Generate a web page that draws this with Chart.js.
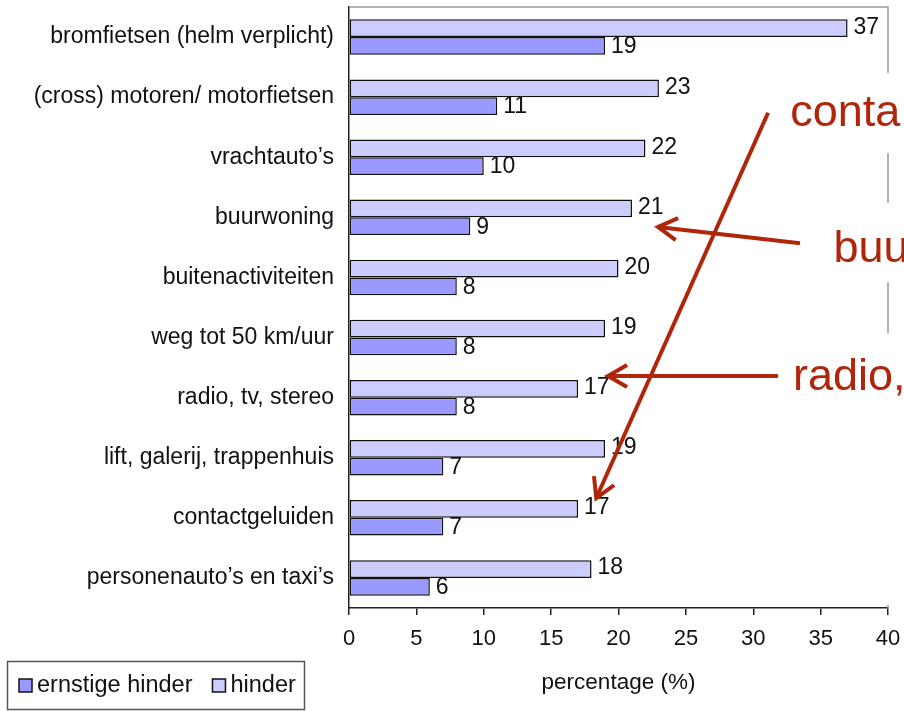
<!DOCTYPE html>
<html>
<head>
<meta charset="utf-8">
<script src="https://cdn.jsdelivr.net/npm/chart.js@4"></script>
<style>
  html, body { margin: 0; padding: 0; background: #fff; }
  #c { display: block; }
</style>
</head>
<body>
<canvas id="c" width="904" height="711"></canvas>
<script>
const categories = [
  "bromfietsen (helm verplicht)",
  "(cross) motoren/ motorfietsen",
  "vrachtauto’s",
  "buurwoning",
  "buitenactiviteiten",
  "weg tot 50 km/uur",
  "radio, tv, stereo",
  "lift, galerij, trappenhuis",
  "contactgeluiden",
  "personenauto’s en taxi’s"
];
const hinder = [37, 23, 22, 21, 20, 19, 17, 19, 17, 18];
const ernstigeHinder = [19, 11, 10, 9, 8, 8, 8, 7, 7, 6];
const seriesLabels = ["hinder", "ernstige hinder"];
const xTickValues = [0, 5, 10, 15, 20, 25, 30, 35, 40];
const axisTitle = "percentage (%)";

// annotation overlay (in data units: x = percentage, y = category index)
const annoTexts = [
  { text: "conta", x: 32.75, y: 1.48, box: [0.6, 1.93] },
  { text: "buu", x: 35.95, y: 3.74, box: [2.76, 4.08] },
  { text: "radio,", x: 32.95, y: 5.87, box: [4.93, 9.45] }
];
const annoArrows = [
  { from: [31.1, 1.26], to: [18.35, 7.67] },
  { from: [33.47, 3.43], to: [22.93, 3.16] },
  { from: [31.84, 5.64], to: [19.22, 5.64] }
];

const FONT = "'Liberation Sans', Arial, sans-serif";
const RED = "#b0260a";

const frameAndLabels = {
  id: "frameAndLabels",
  beforeDatasetsDraw(chart) {
    const { ctx, chartArea: a } = chart;
    ctx.save();
    ctx.strokeStyle = "#9a9a9a";
    ctx.lineWidth = 1.5;
    ctx.beginPath();
    ctx.moveTo(a.left, a.top);
    ctx.lineTo(a.right, a.top);
    ctx.lineTo(a.right, a.bottom);
    ctx.stroke();
    ctx.restore();
  },
  afterDatasetsDraw(chart) {
    const { ctx } = chart;
    ctx.save();
    ctx.font = "23px " + FONT;
    ctx.fillStyle = "#111";
    ctx.textBaseline = "middle";
    ctx.textAlign = "left";
    chart.data.datasets.forEach((ds, di) => {
      const meta = chart.getDatasetMeta(di);
      meta.data.forEach((bar, i) => {
        ctx.fillText(String(ds.data[i]), bar.x + 6, bar.y + (di === 0 ? -1 : 1));
      });
    });
    ctx.restore();
  },
  afterDraw(chart) {
    const { ctx, chartArea } = chart;
    const xs = chart.scales.x, ys = chart.scales.y;
    const px = v => xs.getPixelForValue(v);
    const y0 = ys.getPixelForValue(0), step = ys.getPixelForValue(1) - y0;
    const py = c => y0 + c * step;

    ctx.save();
    // white boxes behind the overlay texts
    annoTexts.forEach(t => {
      ctx.fillStyle = "#fff";
      const bx = px(t.x) - 6;
      const top = py(t.box[0]);
      const bot = Math.min(py(t.box[1]), chartArea.bottom - 2);
      ctx.fillRect(bx, top, chart.width - bx, bot - top);
    });
    ctx.font = "45px " + FONT;
    annoTexts.forEach(t => {
      ctx.fillStyle = RED;
      ctx.textBaseline = "alphabetic";
      ctx.textAlign = "left";
      ctx.fillText(t.text, px(t.x), py(t.y));
    });
    // arrows
    ctx.strokeStyle = RED;
    ctx.lineWidth = 4;
    ctx.lineCap = "butt";
    annoArrows.forEach(a => {
      const x1 = px(a.from[0]), y1 = py(a.from[1]);
      const x2 = px(a.to[0]), y2 = py(a.to[1]);
      ctx.beginPath();
      ctx.moveTo(x1, y1);
      ctx.lineTo(x2, y2);
      ctx.stroke();
      const ang = Math.atan2(y2 - y1, x2 - x1);
      const L = 22, sp = Math.PI / 6;
      ctx.beginPath();
      ctx.moveTo(x2 - L * Math.cos(ang - sp), y2 - L * Math.sin(ang - sp));
      ctx.lineTo(x2, y2);
      ctx.lineTo(x2 - L * Math.cos(ang + sp), y2 - L * Math.sin(ang + sp));
      ctx.stroke();
    });

    // legend box (bottom-left)
    ctx.strokeStyle = "#555";
    ctx.lineWidth = 1.5;
    ctx.strokeRect(7.5, 661.5, 297, 48);
    ctx.font = "23.5px " + FONT;
    ctx.textBaseline = "middle";
    ctx.textAlign = "left";
    let x = 19;
    const ly = 686;
    const items = chart.data.datasets.slice().reverse();
    items.forEach(ds => {
      ctx.fillStyle = ds.backgroundColor;
      ctx.fillRect(x, ly - 7, 13, 13);
      ctx.strokeStyle = "#111";
      ctx.lineWidth = 1.5;
      ctx.strokeRect(x, ly - 7, 13, 13);
      ctx.fillStyle = "#111";
      ctx.fillText(ds.label, x + 18, ly);
      x += 18 + ctx.measureText(ds.label).width + 20;
    });
    ctx.restore();
  }
};

new Chart(document.getElementById("c"), {
  type: "bar",
  data: {
    labels: categories,
    datasets: [
      {
        label: seriesLabels[0],
        data: hinder,
        backgroundColor: "#ccccff",
        borderColor: "#111",
        borderWidth: 1.5,
        borderSkipped: false,
        categoryPercentage: 0.59,
        barPercentage: 1.0
      },
      {
        label: seriesLabels[1],
        data: ernstigeHinder,
        backgroundColor: "#9999ff",
        borderColor: "#111",
        borderWidth: 1.5,
        borderSkipped: false,
        categoryPercentage: 0.59,
        barPercentage: 1.0
      }
    ]
  },
  options: {
    indexAxis: "y",
    responsive: false,
    animation: false,
    devicePixelRatio: 1,
    layout: { padding: { top: 7, right: 16, left: 0, bottom: 0 } },
    plugins: { legend: { display: false }, tooltip: { enabled: false } },
    scales: {
      y: {
        grid: { display: false, drawTicks: false },
        border: { display: true, color: "#222", width: 1.5 },
        ticks: { font: { size: 23, family: FONT }, color: "#111", padding: 15 },
        afterFit(s) { s.width = 349; s.paddingTop = 0; s.paddingBottom = 0; }
      },
      x: {
        min: 0,
        max: 40,
        afterBuildTicks(s) { s.ticks = xTickValues.map(v => ({ value: v })); },
        ticks: { font: { size: 22, family: FONT }, color: "#111", padding: 11, maxRotation: 0 },
        grid: { drawOnChartArea: false, drawTicks: true, tickLength: 7, color: "#222", lineWidth: 1.5 },
        border: { display: true, color: "#222", width: 1.5 },
        title: {
          display: true,
          text: axisTitle,
          font: { size: 22.5, family: FONT },
          color: "#111",
          padding: { top: 4, bottom: 15 }
        },
        afterFit(s) { s.height = 103; s.paddingLeft = 0; s.paddingRight = 0; }
      }
    }
  },
  plugins: [frameAndLabels]
});
</script>
</body>
</html>
